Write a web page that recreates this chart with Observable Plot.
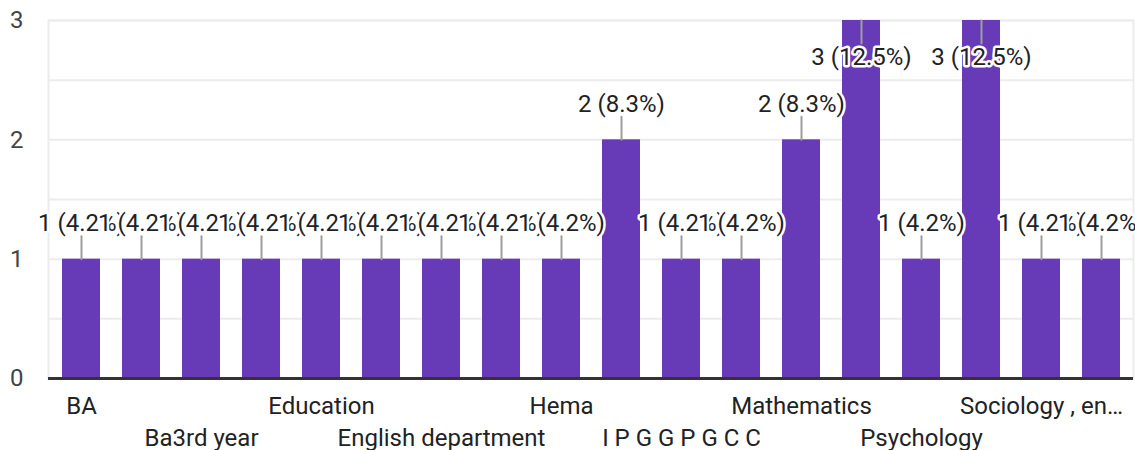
<!DOCTYPE html>
<html>
<head>
<meta charset="utf-8">
<script src="https://cdn.jsdelivr.net/npm/d3@7"></script>
<script src="https://cdn.jsdelivr.net/npm/@observablehq/plot@0.6"></script>
<style>
  html, body { margin: 0; padding: 0; background: #fff; }
  #chart svg { display: block; }
</style>
</head>
<body>
<div id="chart"></div>
<script>
// Categories (every other label is hidden in the reference; hidden names are placeholders)
const categories = [
  "BA", "B.A", "Ba3rd year", "Bengali", "Education", "English",
  "English department", "Geography", "Hema", "History",
  "I P G G P G C C", "Kannada", "Mathematics", "Political science",
  "Psychology", "Sociology", "Sociology , en…", "Zoology"
];
const counts = [1, 1, 1, 1, 1, 1, 1, 1, 1, 2, 1, 1, 2, 3, 1, 3, 1, 1];
const percents = ["4.2", "4.2", "4.2", "4.2", "4.2", "4.2", "4.2", "4.2", "4.2", "8.3",
                  "4.2", "4.2", "8.3", "12.5", "4.2", "12.5", "4.2", "4.2"];
const yTicks = [0, 1, 2, 3];
const gridTicks = [0.5, 1, 1.5, 2, 2.5, 3];
const labelsRow1 = ["BA", "Education", "Hema", "Mathematics", "Sociology , en…"];
const labelsRow2 = ["Ba3rd year", "English department", "I P G G P G C C", "Psychology"];

const data = categories.map((c, i) => ({cat: c, value: counts[i], label: `${counts[i]} (${percents[i]}%)`}));
const yMax = 3;
const atTop = d => d.value >= yMax;
const below = d => d.value < yMax;

const stem = { draw(context, l) { context.moveTo(0, 0); context.lineTo(0, -l); } };
const font = "Roboto, 'Liberation Sans', Arial, sans-serif";

const chart = Plot.plot({
  width: 1135,
  height: 450,
  marginTop: 20,
  marginBottom: 72,
  marginLeft: 48,
  marginRight: 2,
  style: { fontFamily: font, background: "#fff" },
  x: { domain: categories, paddingInner: 0.37, paddingOuter: 0.185 },
  y: { domain: [0, yMax] },
  marks: [
    Plot.gridY(gridTicks, { stroke: "#ececec", strokeWidth: 2, strokeOpacity: 1 }),
    Plot.frame({ stroke: "#ececec", strokeWidth: 2 }),
    Plot.barY(data, { x: "cat", y: "value", fill: "#673ab7" }),
    Plot.ruleY([0], { stroke: "#333", strokeWidth: 3 }),
    Plot.vector(data.filter(below), { x: "cat", y: "value", length: 23, anchor: "start", shape: stem, stroke: "#9e9e9e", strokeWidth: 2 }),
    Plot.vector(data.filter(atTop), { x: "cat", y: "value", length: 23, rotate: 180, anchor: "start", shape: stem, stroke: "#9e9e9e", strokeWidth: 2 }),
    ...data.map(d => Plot.text([d], {
      x: "cat", y: "value", text: "label",
      dy: atTop(d) ? 37 : -36,
      fontSize: 24, fill: "#222", stroke: "white", strokeWidth: 5, paintOrder: "stroke"
    })),
    Plot.axisY(yTicks, { tickSize: 0, tickPadding: 25, tickFormat: "d", fontSize: 24, fill: "#444", label: null }),
    Plot.axisX({ ticks: labelsRow1, tickSize: 0, tickPadding: 18, fontSize: 24, fill: "#222", label: null }),
    Plot.axisX({ ticks: labelsRow2, tickSize: 0, tickPadding: 50, fontSize: 24, fill: "#222", label: null })
  ]
});
document.getElementById("chart").appendChild(chart);
</script>
</body>
</html>
